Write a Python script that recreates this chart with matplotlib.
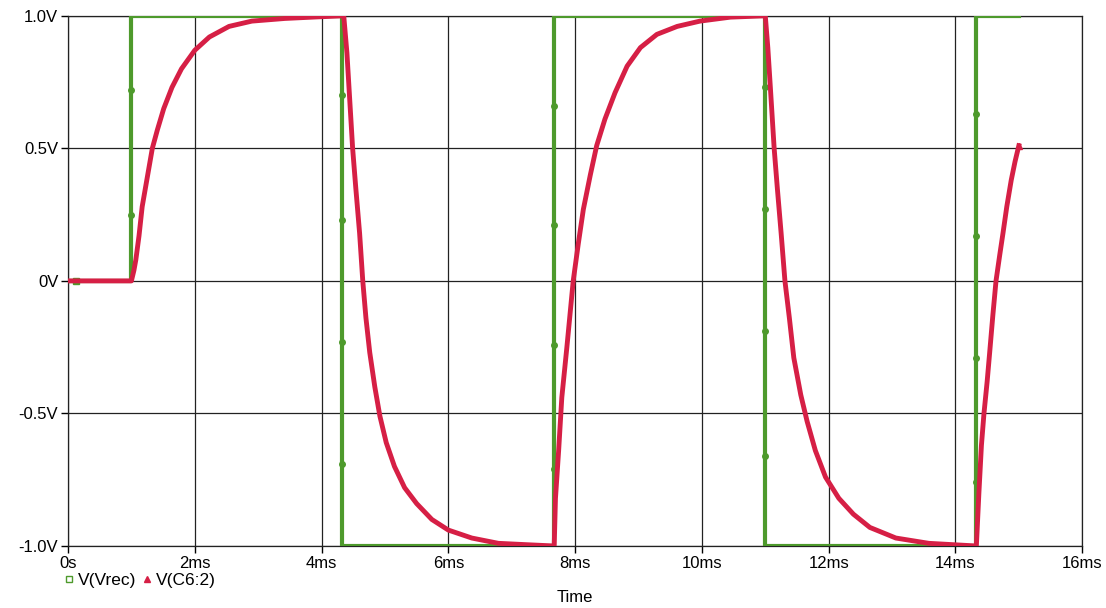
import matplotlib.pyplot as plt
from matplotlib.lines import Line2D

# V(Vrec) square wave corners, time in ms
vrec_t = [0, 1.0, 1.0, 4.33, 4.33, 7.67, 7.67, 11.0, 11.0, 14.33, 14.33, 15.0]
vrec_v = [0, 0, 1, 1, -1, -1, 1, 1, -1, -1, 1, 1]

# small marker dots on the V(Vrec) trace
vrec_dot_t = [1.0, 1.0,
              4.33, 4.33, 4.33, 4.33,
              7.67, 7.67, 7.67, 7.67,
              11.0, 11.0, 11.0, 11.0,
              14.33, 14.33, 14.33, 14.33]
vrec_dot_v = [0.72, 0.25,
              0.70, 0.23, -0.23, -0.69,
              0.66, 0.21, -0.24, -0.71,
              0.73, 0.27, -0.19, -0.66,
              0.63, 0.17, -0.29, -0.76]

# V(C6:2)
c6_t = [0, 1.0, 1.04, 1.07, 1.12, 1.17, 1.25, 1.33, 1.41, 1.51, 1.64, 1.79, 2.0,
        2.23, 2.54, 2.90, 3.42, 3.94, 4.35,
        4.40, 4.44, 4.49, 4.54, 4.60, 4.65, 4.70, 4.76, 4.84, 4.92, 5.02, 5.15,
        5.31, 5.50, 5.74, 6.0, 6.37, 6.79, 7.22, 7.67,
        7.69, 7.74, 7.79, 7.87, 7.97, 8.05, 8.13, 8.24, 8.34, 8.47, 8.63, 8.82,
        9.03, 9.29, 9.61, 9.97, 10.45, 11.0,
        11.04, 11.08, 11.14, 11.19, 11.25, 11.31, 11.38, 11.45, 11.56, 11.66, 11.79,
        11.95, 12.16, 12.39, 12.65, 13.06, 13.58, 14.33,
        14.37, 14.41, 14.45, 14.50, 14.54, 14.59, 14.64, 14.70, 14.75, 14.81,
        14.88, 14.94, 15.0]
c6_v = [0, 0, 0.04, 0.08, 0.17, 0.28, 0.39, 0.50, 0.57, 0.65, 0.73, 0.80, 0.87,
        0.92, 0.96, 0.98, 0.99, 0.996, 1.0,
        0.86, 0.70, 0.50, 0.35, 0.18, 0.0, -0.14, -0.27, -0.40, -0.51, -0.61, -0.70,
        -0.78, -0.84, -0.90, -0.94, -0.97, -0.99, -0.995, -1.0,
        -0.82, -0.64, -0.44, -0.25, 0.0, 0.14, 0.27, 0.40, 0.51, 0.61, 0.71, 0.81,
        0.88, 0.93, 0.96, 0.98, 0.995, 1.0,
        0.88, 0.73, 0.50, 0.35, 0.18, 0.0, -0.14, -0.29, -0.43, -0.53, -0.64,
        -0.74, -0.82, -0.88, -0.93, -0.97, -0.99, -1.0,
        -0.80, -0.62, -0.50, -0.38, -0.27, -0.13, 0.0, 0.10, 0.18, 0.28,
        0.38, 0.45, 0.51]

x_ticks = [0, 2, 4, 6, 8, 10, 12, 14, 16]
x_labels = ["0s", "2ms", "4ms", "6ms", "8ms", "10ms", "12ms", "14ms", "16ms"]
y_ticks = [-1.0, -0.5, 0, 0.5, 1.0]
y_labels = ["-1.0V", "-0.5V", "0V", "0.5V", "1.0V"]

GREEN = "#4e9a2c"
RED = "#d61f45"


def main():
    plt.rcParams['font.family'] = ['Liberation Sans', 'DejaVu Sans']
    fig = plt.figure(figsize=(11.06, 6.08), dpi=100)
    ax = fig.add_axes([0.0615, 0.102, 0.917, 0.872])

    ax.plot(vrec_t, vrec_v, color=GREEN, lw=3, zorder=3)
    ax.plot(vrec_dot_t, vrec_dot_v, 'o', color=GREEN, ms=4, zorder=3)
    ax.plot([0.13], [0], 's', color=GREEN, ms=5, zorder=3)
    ax.plot(c6_t, c6_v, color=RED, lw=3.5, zorder=4, solid_joinstyle='round')
    ax.plot([c6_t[-1]], [c6_v[-1]], '^', color=RED, ms=5, zorder=4)

    ax.set_xlim(0, 16)
    ax.set_ylim(-1.0, 1.0)
    ax.set_xticks(x_ticks)
    ax.set_xticklabels(x_labels)
    ax.set_yticks(y_ticks)
    ax.set_yticklabels(y_labels)
    ax.tick_params(direction='out', length=5, width=1, colors='black', labelsize=12, pad=2)
    ax.grid(True, color='#222222', lw=0.9)
    for s in ax.spines.values():
        s.set_color('#222222')
        s.set_linewidth(0.9)
    ax.set_xlabel("Time", fontsize=12, labelpad=14)

    handles = [
        Line2D([], [], marker='s', ls='none', color=GREEN, mfc='none', ms=4, mew=1),
        Line2D([], [], marker='^', ls='none', color=RED, ms=4),
    ]
    fig.legend(handles, ["V(Vrec)", "V(C6:2)"], loc='center left',
               bbox_to_anchor=(0.058, 0.045), ncol=2, frameon=False,
               handlelength=0.6, handletextpad=0.2, columnspacing=0.3,
               borderpad=0, borderaxespad=0, fontsize=12.5)

    # plt.show()
    fig.savefig('out.png', dpi=100)


if __name__ == '__main__':
    main()
